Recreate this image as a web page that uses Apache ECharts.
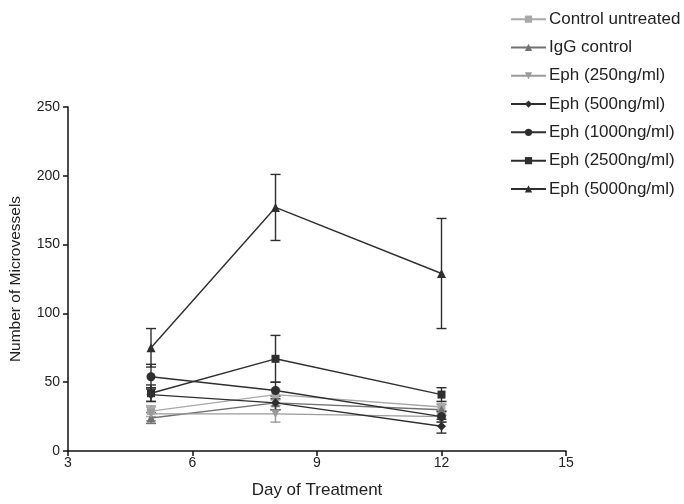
<!DOCTYPE html>
<html>
<head>
<meta charset="utf-8">
<script src="https://cdn.jsdelivr.net/npm/echarts@6/dist/echarts.min.js"></script>
<style>html,body{margin:0;padding:0;background:#fff}#c{width:684px;height:504px}</style>
</head>
<body>
<div id="c"></div>
<script>
var days = [5, 8, 12];
var seriesNames = ['Control untreated', 'IgG control', 'Eph (250ng/ml)', 'Eph (500ng/ml)', 'Eph (1000ng/ml)', 'Eph (2500ng/ml)', 'Eph (5000ng/ml)'];
var ctrlMean = [29, 41, 32];
var ctrlErr = [4, 4, 4];
var iggMean = [24, 35, 30];
var iggErr = [4, 5, 4];
var eph250Mean = [27, 27, 25];
var eph250Err = [5, 6, 4];
var eph500Mean = [41, 35, 18];
var eph500Err = [5, 5, 5];
var eph1000Mean = [54, 44, 25];
var eph1000Err = [9, 6, 4];
var eph2500Mean = [42, 67, 41];
var eph2500Err = [6, 17, 5];
var eph5000Mean = [75, 177, 129];
var eph5000Err = [14, 24, 40];
var xTicks = [3, 6, 9, 12, 15];
var yTicks = [0, 50, 100, 150, 200, 250];

var means = [ctrlMean, iggMean, eph250Mean, eph500Mean, eph1000Mean, eph2500Mean, eph5000Mean];
var errs = [ctrlErr, iggErr, eph250Err, eph500Err, eph1000Err, eph2500Err, eph5000Err];
var colors = ['#a8a8a8', '#707070', '#9a9a9a', '#2e2e2e', '#2e2e2e', '#2e2e2e', '#2e2e2e'];
var symbols = ['rect', 'triangle', 'triangle', 'diamond', 'circle', 'rect', 'triangle'];
var rotates = [0, 0, 180, 0, 0, 0, 0];
var sizes = [8, 9, 9, 9, 9, 8, 9];
var FONT = "'Liberation Sans', Arial, sans-serif";

var series = [];
means.forEach(function (m, i) {
  var errData = days.map(function (d, k) { return [d, m[k], m[k] - errs[i][k], m[k] + errs[i][k]]; });
  series.push({
    name: 'err' + i,
    type: 'custom',
    z: 1,
    silent: true,
    data: errData,
    encode: { x: 0, y: [1, 2, 3] },
    renderItem: function (params, api) {
      var x = api.value(0);
      var lo = api.coord([x, api.value(2)]);
      var hi = api.coord([x, api.value(3)]);
      var w = 5;
      var st = { stroke: colors[i], lineWidth: 1.4, fill: null };
      return {
        type: 'group',
        children: [
          { type: 'line', shape: { x1: lo[0], y1: lo[1], x2: hi[0], y2: hi[1] }, style: st },
          { type: 'line', shape: { x1: lo[0] - w, y1: lo[1], x2: lo[0] + w, y2: lo[1] }, style: st },
          { type: 'line', shape: { x1: hi[0] - w, y1: hi[1], x2: hi[0] + w, y2: hi[1] }, style: st }
        ]
      };
    }
  });
  series.push({
    name: seriesNames[i],
    type: 'line',
    z: 2,
    data: days.map(function (d, k) { return [d, m[k]]; }),
    symbol: symbols[i],
    symbolRotate: rotates[i],
    symbolSize: sizes[i],
    showAllSymbol: true,
    lineStyle: { color: colors[i], width: 1.4 },
    itemStyle: { color: colors[i] },
    emphasis: { disabled: true }
  });
});

var chart = echarts.init(document.getElementById('c'), null, { renderer: 'canvas' });
chart.setOption({
  animation: false,
  backgroundColor: '#fff',
  grid: { left: 64, right: 118, top: 107, bottom: 52, containLabel: false },
  legend: {
    data: seriesNames,
    orient: 'vertical',
    left: 505,
    top: 5,
    itemWidth: 35,
    itemHeight: 9,
    itemGap: 10,
    textStyle: { fontFamily: FONT, fontSize: 17, color: '#222', lineHeight: 18.3, padding: [0, 0, 0, -2] }
  },
  xAxis: {
    type: 'value',
    min: 3, max: 15, interval: 3,
    name: 'Day of Treatment',
    nameLocation: 'middle',
    nameGap: 31,
    nameTextStyle: { fontFamily: FONT, fontSize: 17, color: '#222' },
    axisLine: { lineStyle: { color: '#111', width: 1.5 } },
    axisTick: { show: true, length: 5, lineStyle: { color: '#111', width: 1.5 } },
    axisLabel: { fontFamily: FONT, fontSize: 14, color: '#222', margin: 5,
      formatter: function (v) { return xTicks.indexOf(v) >= 0 ? String(v) : ''; } },
    splitLine: { show: false }
  },
  yAxis: {
    type: 'value',
    min: 0, max: 250, interval: 50,
    name: 'Number of Microvessels',
    nameLocation: 'middle',
    nameGap: 44,
    nameTextStyle: { fontFamily: FONT, fontSize: 15.5, color: '#222' },
    axisLine: { show: true, lineStyle: { color: '#111', width: 1.5 } },
    axisTick: { show: true, length: 5, lineStyle: { color: '#111', width: 1.5 } },
    axisLabel: { fontFamily: FONT, fontSize: 14, color: '#222', margin: 8,
      formatter: function (v) { return yTicks.indexOf(v) >= 0 ? String(v) : ''; } },
    splitLine: { show: false }
  },
  series: series
});
</script>
</body>
</html>
